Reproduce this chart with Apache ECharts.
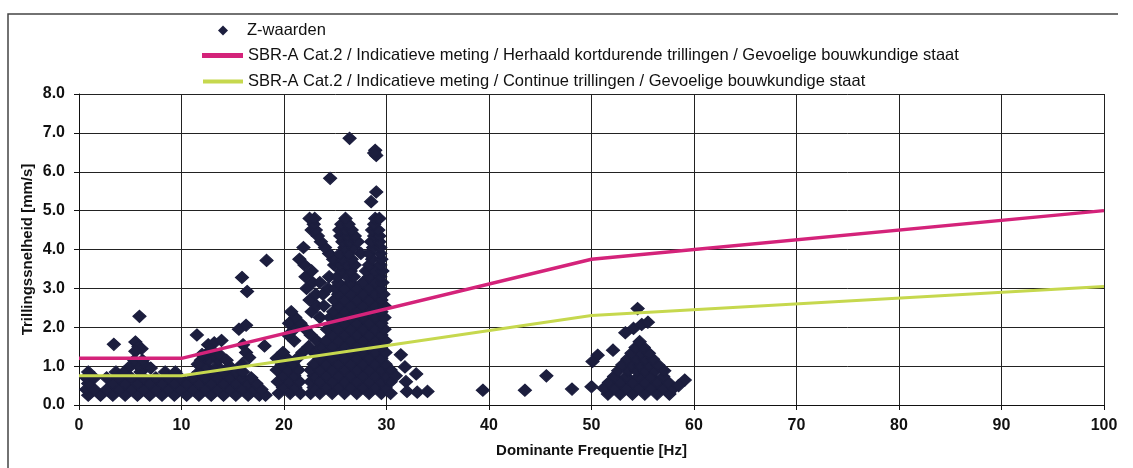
<!DOCTYPE html>
<html>
<head>
<meta charset="utf-8">
<script src="https://cdn.jsdelivr.net/npm/echarts@6/dist/echarts.min.js"></script>
<style>
html,body{margin:0;padding:0;background:#fff;}
#chart{width:1133px;height:468px;}
</style>
</head>
<body>
<div id="chart"></div>
<script>
// ---- Limit lines (SBR-A Cat.2, gevoelige bouwkundige staat) ----
const limitFreq = [0, 10, 50, 100];
const limitRepeated = [1.2, 1.2, 3.75, 5.0];
const limitContinuous = [0.75, 0.75, 2.3, 3.05];

// ---- Z-waarden: rows of [velocity, [frequencies...]] ----
const zLowRows = [
  [0.25, [0.9, 2.1, 3.3, 4.5, 5.7, 6.9, 8.1, 9.3, 10.5, 11.7, 12.9, 14.1, 15.3, 16.5, 17.6, 18.2]],
  [0.4,  [0.7, 1.5, 2.7, 3.9, 5.1, 6.3, 7.5, 8.7, 9.9, 11.1, 12.3, 13.5, 14.7, 15.9, 17.0, 17.8]],
  [0.55, [0.9, 3.3, 4.5, 5.7, 6.9, 8.1, 9.3, 10.5, 11.7, 12.9, 14.1, 15.3, 16.5, 17.3]],
  [0.7,  [0.7, 1.5, 2.7, 3.9, 5.1, 6.3, 7.5, 8.7, 9.9, 11.1, 12.3, 13.5, 14.7, 15.9, 16.8]],
  [0.85, [0.9, 3.6, 4.4, 6.0, 8.4, 9.4, 11.7, 12.9, 14.1, 15.3, 16.0]],
  [1.0,  [5.0, 5.8, 6.6, 12.3, 13.5, 14.7]],
  [1.15, [5.4, 6.2, 11.9, 12.7, 13.6]],
  [1.3,  [12.4, 13.2]]
];
const zLowScatter = [
  [3.4, 1.56], [5.9, 2.28], [5.5, 1.62], [5.8, 1.5], [6.1, 1.45], [5.5, 1.38], [7.0, 0.95],
  [11.5, 1.8], [12.6, 1.55], [13.2, 1.6], [13.9, 1.66], [12.0, 1.3], [12.9, 1.42], [13.7, 1.3],
  [14.4, 1.15], [11.6, 1.05], [15.6, 1.95], [16.3, 2.05], [15.9, 3.28], [16.4, 2.92],
  [18.3, 3.72], [18.1, 1.52], [16.0, 1.55], [16.3, 1.35], [16.6, 1.22], [15.9, 1.05]
];
const zMainRows = [
  [0.3,  [19.5, 20.6, 21.6, 22.6, 23.5, 24.7, 25.9, 27.1, 28.3, 29.5, 30.4]],
  [0.45, [19.9, 21.1, 22.9, 24.1, 25.3, 26.5, 27.7, 28.9, 29.9]],
  [0.6,  [19.4, 20.5, 21.5, 22.6, 23.5, 24.7, 25.9, 27.1, 28.3, 29.5, 30.4]],
  [0.75, [19.9, 21.0, 22.9, 24.1, 25.3, 26.5, 27.7, 28.9, 29.9]],
  [0.9,  [19.3, 20.4, 21.4, 22.6, 23.5, 24.7, 25.9, 27.1, 28.3, 29.5, 30.4]],
  [1.05, [19.8, 20.9, 22.9, 24.1, 25.3, 26.5, 27.7, 28.9, 29.9]],
  [1.2,  [19.3, 20.3, 21.3, 23.5, 24.7, 25.9, 27.1, 28.3, 29.5]],
  [1.35, [19.9, 21.8, 22.9, 24.1, 25.3, 26.5, 27.7, 28.9, 29.9]],
  [1.5,  [22.4, 23.6, 24.7, 25.9, 27.1, 28.3, 29.5]],
  [1.65, [21.0, 23.2, 24.1, 25.3, 26.5, 27.7, 28.9, 29.9]],
  [1.8,  [20.4, 22.6, 24.7, 25.9, 27.1, 28.3, 29.5]],
  [1.95, [21.0, 22.1, 24.2, 25.3, 26.5, 27.7, 28.9, 29.8]],
  [2.1,  [20.5, 21.6, 24.7, 25.9, 27.1, 28.3, 29.5]],
  [2.25, [21.1, 23.5, 24.5, 25.3, 26.5, 27.7, 28.9, 29.8]],
  [2.4,  [20.7, 22.7, 24.8, 25.9, 27.1, 28.3, 29.5]],
  [2.55, [23.2, 23.9, 25.3, 26.5, 27.7, 28.9, 29.8]],
  [2.7,  [22.5, 24.9, 25.9, 27.1, 28.3, 29.5]],
  [2.85, [23.1, 23.8, 25.3, 26.5, 27.7, 28.9, 29.7]],
  [3.0,  [22.2, 24.3, 25.0, 25.9, 27.1, 28.3, 29.4]],
  [3.15, [22.8, 23.5, 25.3, 26.5, 27.7, 28.9, 29.6]],
  [3.3,  [22.1, 24.4, 25.2, 26.2, 26.8, 28.3, 29.4]],
  [3.45, [22.7, 25.6, 26.5, 28.0, 28.9, 29.6]],
  [3.6,  [22.0, 24.9, 25.5, 26.2, 26.9, 28.3, 29.4]],
  [3.75, [21.5, 24.8, 25.7, 26.6, 28.6, 29.5]],
  [3.9,  [24.4, 25.5, 26.3, 27.5, 28.3, 29.4]],
  [4.05, [21.9, 24.0, 25.9, 26.8, 28.7, 29.4]],
  [4.2,  [23.6, 25.7, 26.4, 27.2, 28.5, 29.3]],
  [4.35, [23.3, 25.5, 26.2, 26.9, 28.8, 29.3]],
  [4.5,  [22.7, 23.1, 25.4, 26.0, 26.6, 28.6, 29.2]],
  [4.65, [22.9, 25.6, 26.3, 28.8]],
  [4.8,  [22.5, 23.0, 26.0, 28.9, 29.3]]
];
const zMainScatter = [
  [26.4, 6.86], [28.9, 6.55], [29.0, 6.42], [28.8, 6.48], [24.5, 5.83], [29.0, 5.48], [28.5, 5.23],
  [31.4, 1.29], [31.8, 0.98], [32.9, 0.8], [31.9, 0.6], [32.0, 0.35], [33.0, 0.33], [34.0, 0.35],
  [30.9, 0.75], [39.4, 0.38], [43.5, 0.38], [45.6, 0.75], [48.1, 0.41]
];
const zHighRows = [
  [0.28, [51.6, 52.8, 54.0, 55.2, 56.4, 57.6]],
  [0.43, [51.2, 52.2, 53.4, 54.6, 55.8, 57.0, 58.0]],
  [0.58, [51.7, 52.8, 54.0, 55.2, 56.4, 57.5]],
  [0.73, [52.2, 53.4, 54.6, 55.8, 57.0]],
  [0.88, [52.6, 53.6, 54.4, 55.2, 56.2, 57.1]],
  [1.03, [53.0, 53.9, 54.7, 55.6, 56.5]],
  [1.18, [53.5, 54.4, 55.2, 56.0]],
  [1.33, [53.9, 54.8, 55.6]],
  [1.48, [54.3, 55.1]],
  [1.63, [54.7]]
];
const zHighScatter = [
  [54.5, 2.48], [53.3, 1.86], [54.1, 1.97], [54.9, 2.07], [55.5, 2.13], [52.1, 1.41],
  [50.1, 1.12], [50.6, 1.28], [50.0, 0.47], [59.1, 0.64], [58.5, 0.5]
];

const xTickLabels = ['0', '10', '20', '30', '40', '50', '60', '70', '80', '90', '100'];
const yTickLabels = ['0.0', '1.0', '2.0', '3.0', '4.0', '5.0', '6.0', '7.0', '8.0'];

const seriesNames = [
  'Z-waarden',
  'SBR-A Cat.2 / Indicatieve meting / Herhaald kortdurende trillingen / Gevoelige bouwkundige staat',
  'SBR-A Cat.2 / Indicatieve meting / Continue trillingen / Gevoelige bouwkundige staat'
];

function expandRows(rows) {
  const out = [];
  rows.forEach(function (r) { r[1].forEach(function (f) { out.push([f, r[0]]); }); });
  return out;
}
const zData = [].concat(
  expandRows(zLowRows), zLowScatter,
  expandRows(zMainRows), zMainScatter,
  expandRows(zHighRows), zHighScatter
);
const repeatedData = limitFreq.map(function (f, i) { return [f, limitRepeated[i]]; });
const continuousData = limitFreq.map(function (f, i) { return [f, limitContinuous[i]]; });

const FONT = "'Liberation Sans', Arial, Helvetica, sans-serif";
const PINK = '#d4237a';
const LIME = '#c6d84e';
const NAVY = '#1c1e3e';
const chart = echarts.init(document.getElementById('chart'), null, { renderer: 'canvas' });

const legendText = { fontSize: 16.5, color: '#111', fontFamily: FONT };
const option = {
  animation: false,
  backgroundColor: '#ffffff',
  textStyle: { fontFamily: FONT },
  graphic: [{
    type: 'polyline',
    shape: { points: [[8, 470], [8, 14], [1118, 14]] },
    style: { stroke: '#444', lineWidth: 1.5, fill: null },
    silent: true
  }],
  legend: [
    {
      data: [{ name: seriesNames[0], icon: 'diamond', itemStyle: { color: NAVY, borderWidth: 0 } }],
      left: 218, top: 22, padding: 0, itemWidth: 10, itemHeight: 10,
      selectedMode: false,
      textStyle: Object.assign({ padding: [0, 0, 0, 14] }, legendText)
    },
    {
      data: [{ name: seriesNames[1], icon: 'rect', itemStyle: { color: PINK } }],
      left: 202, top: 47, padding: 0, itemWidth: 41, itemHeight: 5,
      selectedMode: false,
      textStyle: legendText
    },
    {
      data: [{ name: seriesNames[2], icon: 'rect', itemStyle: { color: LIME } }],
      left: 203, top: 73, padding: 0, itemWidth: 40, itemHeight: 4,
      selectedMode: false,
      textStyle: legendText
    }
  ],
  grid: { left: 79, right: 29, top: 94, bottom: 63, containLabel: false },
  xAxis: {
    type: 'value', min: 0, max: 100, interval: 10,
    name: 'Dominante Frequentie [Hz]', nameLocation: 'middle', nameGap: 38,
    nameTextStyle: { fontSize: 15, fontWeight: 'bold', color: '#111', fontFamily: FONT },
    axisLine: { show: true, lineStyle: { color: '#111', width: 1 } },
    axisTick: { show: true, length: 5, lineStyle: { color: '#111' } },
    axisLabel: {
      fontSize: 16, fontWeight: 'bold', color: '#111', margin: 13, fontFamily: FONT,
      formatter: function (v) { return xTickLabels[Math.round(v / 10)]; }
    },
    splitLine: { show: true, lineStyle: { color: '#222', width: 1 } }
  },
  yAxis: {
    type: 'value', min: 0, max: 8, interval: 1,
    name: 'Trillingssnelheid [mm/s]', nameLocation: 'middle', nameGap: 44,
    nameMoveOverlap: false,
    nameTextStyle: { fontSize: 15, fontWeight: 'bold', color: '#111', fontFamily: FONT },
    axisLine: { show: true, lineStyle: { color: '#111', width: 1 } },
    axisTick: { show: true, length: 5, lineStyle: { color: '#111' } },
    axisLabel: {
      fontSize: 16, fontWeight: 'bold', color: '#111', margin: 14, fontFamily: FONT,
      formatter: function (v) { return yTickLabels[Math.round(v)]; }
    },
    splitLine: { show: true, lineStyle: { color: '#222', width: 1 } }
  },
  series: [
    {
      name: seriesNames[0], type: 'scatter', data: zData,
      symbol: 'diamond', symbolSize: [13, 12],
      itemStyle: { color: NAVY, opacity: 1, borderColor: NAVY, borderWidth: 1.2 },
      z: 2, silent: true
    },
    {
      name: seriesNames[1], type: 'line', data: repeatedData,
      symbol: 'none', showSymbol: false,
      lineStyle: { color: PINK, width: 3.5 },
      itemStyle: { color: PINK },
      z: 4, silent: true
    },
    {
      name: seriesNames[2], type: 'line', data: continuousData,
      symbol: 'none', showSymbol: false,
      lineStyle: { color: LIME, width: 3 },
      itemStyle: { color: LIME },
      z: 3, silent: true
    }
  ]
};
chart.setOption(option);
</script>
</body>
</html>
